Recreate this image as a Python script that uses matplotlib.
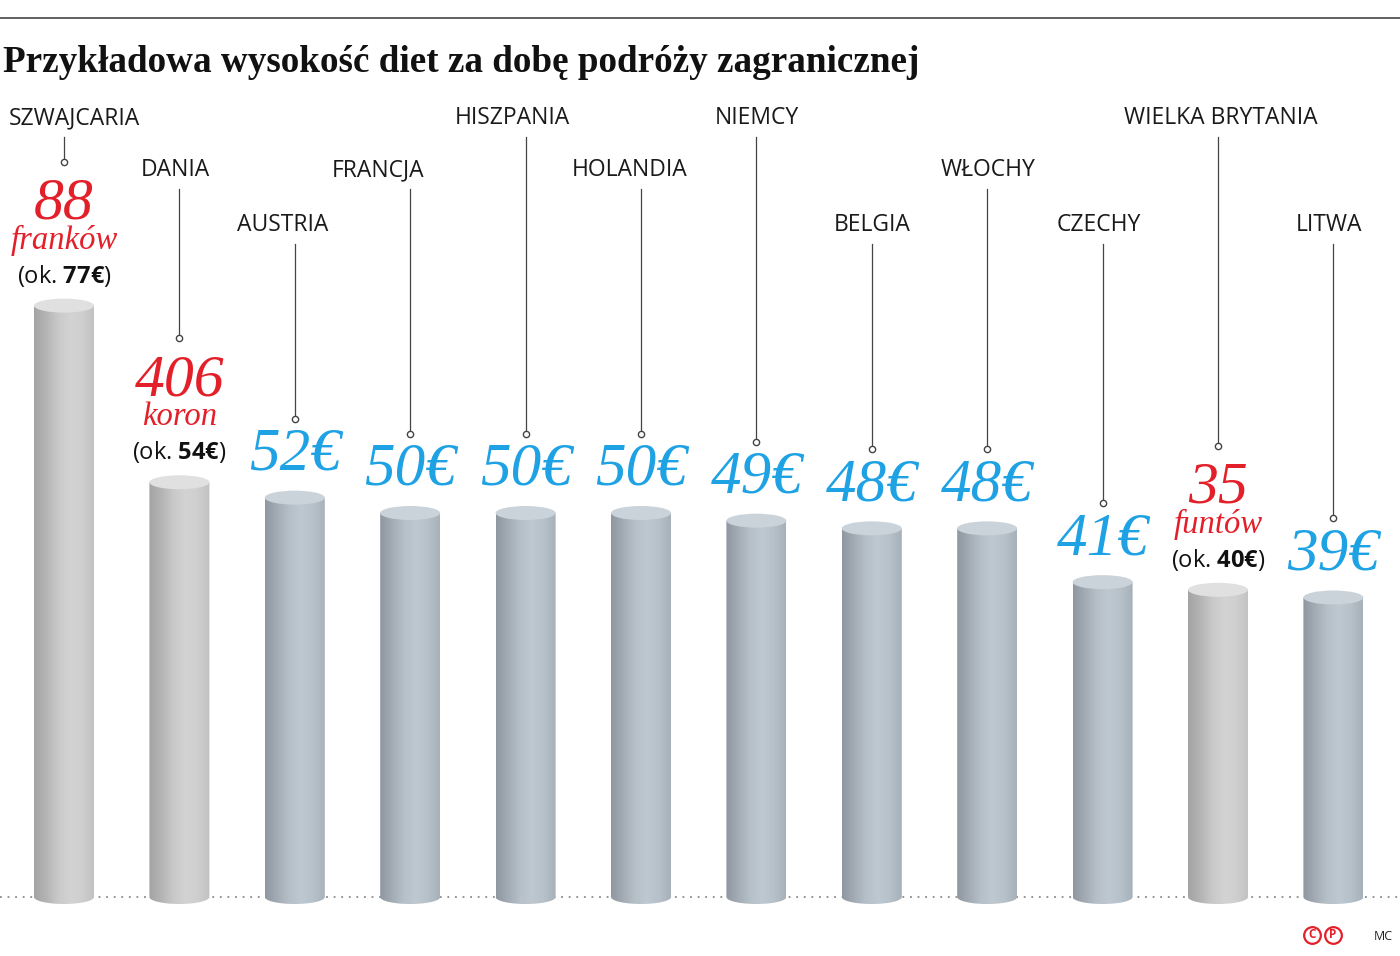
import numpy as np
import matplotlib.pyplot as plt
from matplotlib.patches import Ellipse, Polygon
from matplotlib.colors import to_rgb

plt.rcParams['mathtext.fontset'] = 'custom'
plt.rcParams['mathtext.rm'] = 'Open Sans'
plt.rcParams['mathtext.bf'] = 'Open Sans:bold'

countries = ['SZWAJCARIA', 'DANIA', 'AUSTRIA', 'FRANCJA', 'HISZPANIA', 'HOLANDIA',
             'NIEMCY', 'BELGIA', 'WŁOCHY', 'CZECHY', 'WIELKA BRYTANIA', 'LITWA']
eur = [77, 54, 52, 50, 50, 50, 49, 48, 48, 41, 40, 39]
local_value = ['88', '406', '', '', '', '', '', '', '', '', '35', '']
local_unit = ['franków', 'koron', '', '', '', '', '', '', '', '', 'funtów', '']

# layout (pixels)
tier = [0, 1, 2, 1, 0, 1, 0, 2, 1, 2, 0, 2]
tier_y = [118, 170, 225]
label_dx = [10, -4, -12, -32, -13, -11, 0, 0, 1, -4, 3, -4]

PX = 7.68      # pixels per euro
STEP = 115.4   # pixels between bars
X0 = 64        # first bar centre
BASE = 897     # baseline pixel row

RED = '#e3202a'
BLUE = '#1fa2e4'

fig = plt.figure(figsize=(14, 9.56), dpi=100)
ax = fig.add_axes([0, 0, 1, 1])
ax.axis('off')

def py2y(py):
    return (BASE - py) / PX

def grad(stops):
    xs = np.linspace(0, 1, 80)
    pos = np.linspace(0, 1, len(stops))
    cols = np.array([to_rgb(c) for c in stops])
    return np.stack([np.interp(xs, pos, cols[:, k]) for k in range(3)], axis=1)[None, :, :]

blue_body = grad(['#8f98a1', '#a3acb5', '#b6c0c8', '#bec8d0', '#b7c1ca', '#a7b1ba'])
grey_body = grad(['#a4a4a4', '#b4b4b4', '#c9c9c9', '#d3d3d3', '#cfcfcf', '#c2c2c2'])

w = 60 / STEP
eh = 7 / PX

ax.axhline(0, color='#8a8a8a', lw=1.3, ls=(0, (1, 3.2)), zorder=1)

for i, v in enumerate(eur):
    foreign = local_value[i] != ''
    body = grey_body if foreign else blue_body
    top = '#e0e0e0' if foreign else '#cbd3da'
    t = np.linspace(np.pi, 2 * np.pi, 40)
    pts = [(i - w / 2, v)] + list(zip(i + w / 2 * np.cos(t), eh * np.sin(t))) + [(i + w / 2, v)]
    clip = Polygon(pts, closed=True, transform=ax.transData, fc='none', ec='none')
    ax.add_patch(clip)
    im = ax.imshow(body, extent=[i - w / 2, i + w / 2, -eh, v], aspect='auto',
                   interpolation='bilinear', zorder=2)
    im.set_clip_path(clip)
    ax.add_patch(Ellipse((i, v), w, 2 * eh, fc=top, ec='none', zorder=3))

    # country label + leader line
    ty = tier_y[tier[i]]
    ax.text(i + label_dx[i] / STEP, py2y(ty), countries[i], ha='center', va='center',
            fontsize=16.5, family='Open Sans', color='#1a1a1a')
    cy = v + (144 if foreign else 79) / PX
    ax.plot([i, i], [py2y(ty + 19), cy + 3 / PX], color='#444444', lw=0.9, zorder=4)
    ax.plot(i, cy, 'o', ms=4.5, mfc='white', mec='#444444', mew=1.0, zorder=5)

    if foreign:
        ax.text(i, v + 87 / PX, local_value[i], ha='center', va='baseline', fontsize=43,
                family='Liberation Serif', style='italic', color=RED)
        ax.text(i, v + 57 / PX, local_unit[i], ha='center', va='baseline', fontsize=23.5,
                family='Liberation Serif', style='italic', color=RED)
        ax.text(i, v + 23 / PX, '(ok. $\\mathbf{%d€}$)' % v, ha='center', va='baseline',
                fontsize=17, family='Open Sans', color='#111111')
    else:
        ax.text(i, v + 28 / PX, '%d€' % v, ha='center', va='baseline', fontsize=44,
                family='Liberation Serif', style='italic', color=BLUE)

# title and top rule
fig.add_artist(plt.Line2D([0, 1], [1 - 18 / 956, 1 - 18 / 956], color='#444444', lw=1.2))
fig.text(3 / 1400, 1 - 72 / 956, 'Przykładowa wysokość diet za dobę podróży zagranicznej',
         ha='left', va='baseline', fontsize=26.7, family='Liberation Serif', weight='bold',
         color='#111111')

# footer
for xp, ch in [(1312, 'C'), (1333, 'P')]:
    fig.text(xp / 1400, 1 - 935 / 956, ch, ha='center', va='center', fontsize=8.5,
             family='Open Sans', weight='bold', color=RED)
    ax.plot((xp - X0) / STEP, py2y(935), 'o', ms=12, mfc='none', mec=RED, mew=1.6)
fig.text(1383 / 1400, 1 - 937 / 956, 'MC', ha='center', va='center', fontsize=9,
         family='Open Sans', color='#222222')

ax.set_xlim(-X0 / STEP, (1400 - X0) / STEP)
ax.set_ylim(py2y(956), py2y(0))

fig.savefig('out.png', dpi=100)
